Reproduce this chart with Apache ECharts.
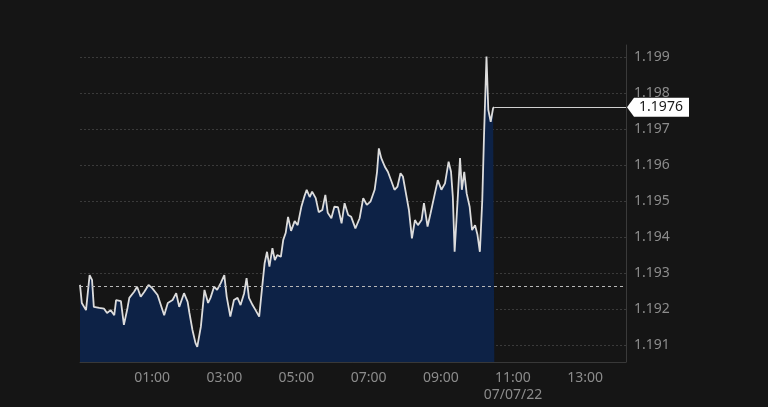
<!DOCTYPE html>
<html>
<head>
<meta charset="utf-8">
<script src="https://cdn.jsdelivr.net/npm/echarts@6/dist/echarts.min.js"></script>
<style>
html,body{margin:0;padding:0;background:#151515;}
#chart{width:768px;height:407px;}
</style>
</head>
<body>
<div id="chart"></div>
<script>
// minutes from 00:00 on 07/07/22 (negative = previous evening)
const times = [-60,-57,-50,-48,-44,-40,-37,-28,-20,-15,-9,-3,0,8,13,19,22,30,35,41,47,54,60,69,80,86,94,100,105,113,119,122,127,132,135,141,147,153,157,163,168,174,180,184,190,196,202,207,213,217,221,227,232,238,243,247,251,255,260,264,268,274,278,282,286,291,297,302,308,313,317,322,326,332,337,343,348,352,358,363,369,375,380,386,391,398,405,411,417,423,430,434,437,441,447,452,458,463,468,473,477,481,487,492,497,502,508,512,518,523,529,535,541,547,553,557,560,563,568,572,575,579,583,588,592,597,601,605,609,612,616,619,623,627,629];
const prices = [1.19267,1.19217,1.19197,1.19193,1.19294,1.19281,1.19206,1.19203,1.19201,1.19189,1.19197,1.19183,1.19225,1.19222,1.19156,1.19203,1.19231,1.19248,1.19262,1.19234,1.19248,1.19267,1.19258,1.19239,1.19183,1.19217,1.19225,1.19244,1.19206,1.19244,1.19220,1.19189,1.19142,1.19106,1.19095,1.19151,1.19253,1.19217,1.19231,1.19262,1.19253,1.19272,1.19294,1.19234,1.19179,1.19225,1.19231,1.19211,1.19244,1.19286,1.19231,1.19211,1.19197,1.19179,1.19262,1.19327,1.19359,1.19318,1.19369,1.19336,1.19350,1.19345,1.19392,1.19411,1.19456,1.19417,1.19444,1.19433,1.19483,1.19512,1.19531,1.19511,1.19526,1.19508,1.19469,1.19475,1.19517,1.19467,1.19452,1.19484,1.19483,1.19438,1.19494,1.19461,1.19456,1.19424,1.19452,1.19508,1.19489,1.19498,1.19531,1.19581,1.19646,1.19619,1.19595,1.19581,1.19554,1.19531,1.19540,1.19577,1.19568,1.19531,1.19475,1.19396,1.19447,1.19433,1.19447,1.19494,1.19429,1.19466,1.19512,1.19558,1.19531,1.19549,1.19609,1.19581,1.19512,1.19359,1.19503,1.19619,1.19531,1.19581,1.19521,1.19484,1.19419,1.19433,1.19406,1.19359,1.19503,1.19688,1.19901,1.19753,1.19720,1.19758,1.1976];
const lastPrice = 1.1976;
const prevClose = 1.19262;
const xTickValues = [60,180,300,420,540,660,780];
const yTickValues = [1.191,1.192,1.193,1.194,1.195,1.196,1.197,1.198,1.199];
const dateLabel = '07/07/22';
const dateLabelAt = 660;
const xMin = -60, xMax = 848;
const yMin = 1.19053, yMax = 1.19933;

const data = times.map((t, i) => [t, prices[i]]);
const lastTime = times[times.length - 1];

function fmtTime(v) {
  const m = ((v % 1440) + 1440) % 1440;
  const h = Math.floor(m / 60), mm = m % 60;
  let s = String(h).padStart(2, '0') + ':' + String(mm).padStart(2, '0');
  if (v === dateLabelAt) s += '\n' + dateLabel;
  return s;
}

const chart = echarts.init(document.getElementById('chart'));
chart.setOption({
  backgroundColor: '#151515',
  animation: false,
  grid: { left: 80, right: 142, top: 45, bottom: 45 },
  xAxis: {
    type: 'value', min: xMin, max: xMax,
    axisLine: { show: true, onZero: false, lineStyle: { color: '#383838', width: 1 } },
    axisTick: { show: false, customValues: xTickValues },
    splitLine: { show: false },
    axisLabel: {
      customValues: xTickValues,
      formatter: fmtTime,
      color: '#8c8c8c', fontSize: 14, fontFamily: 'Noto Sans',
      margin: 8, lineHeight: 17
    }
  },
  yAxis: {
    type: 'value', position: 'right', min: yMin, max: yMax,
    axisLine: { show: true, onZero: false, lineStyle: { color: '#3a3a3a', width: 1 } },
    axisTick: { show: false, customValues: yTickValues },
    splitLine: { show: true, lineStyle: { color: '#3a3a3a', type: [2, 2], width: 1 } },
    axisLabel: {
      customValues: yTickValues,
      formatter: v => v.toFixed(3),
      color: '#8c8c8c', fontSize: 14, fontFamily: 'Noto Sans', margin: 8
    }
  },
  series: [{
    type: 'line',
    data: data,
    showSymbol: false,
    symbol: 'none',
    lineStyle: { color: '#dcdcdc', width: 1.8 },
    areaStyle: { color: '#0d2246', opacity: 1 },
    z: 3,
    markLine: {
      silent: true, symbol: 'none', animation: false,
      label: { show: false },
      data: [
        [ { coord: [xMin, prevClose], lineStyle: { color: '#b8b8b8', type: [3, 3], width: 1 } },
          { coord: [xMax, prevClose] } ],
        [ { coord: [lastTime, lastPrice], lineStyle: { color: '#cfcfcf', type: 'solid', width: 1 } },
          { coord: [xMax, lastPrice] } ]
      ]
    },
    markPoint: {
      silent: true, animation: false,
      data: [{
        coord: [xMax, lastPrice],
        symbol: 'path://M0,9.5 L7,0 L62,0 L62,19 L7,19 Z',
        symbolSize: [62, 19],
        symbolKeepAspect: false,
        symbolOffset: [32, 0],
        itemStyle: { color: '#ffffff' },
        label: {
          show: true, position: 'inside', formatter: lastPrice.toFixed(4),
          color: '#1a1a1a', fontSize: 14, fontFamily: 'Noto Sans', offset: [3, 0]
        }
      }]
    }
  }]
});
</script>
</body>
</html>
